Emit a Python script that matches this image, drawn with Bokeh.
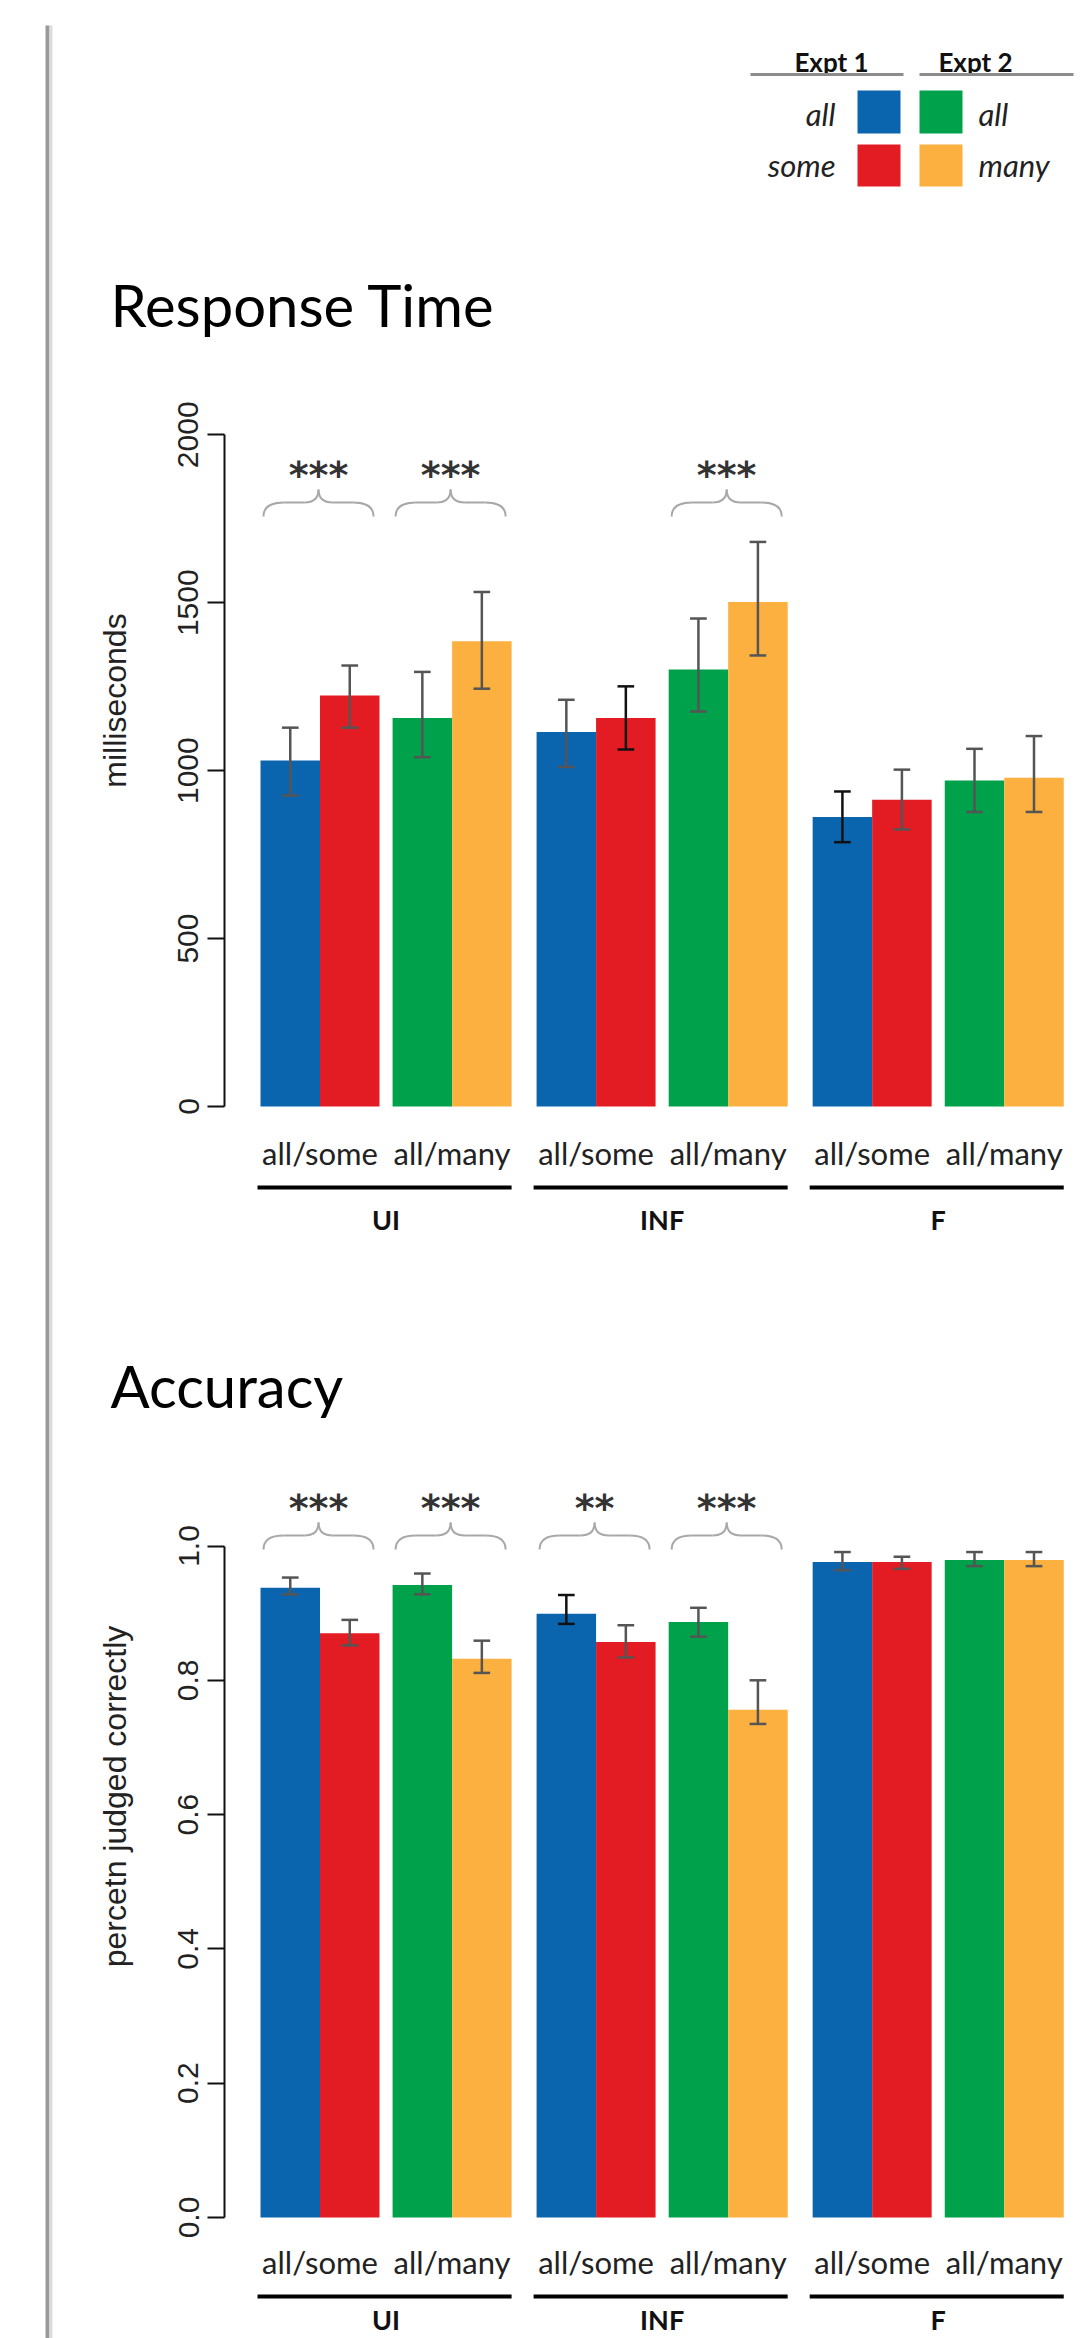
import math
from bokeh.plotting import figure
from bokeh.layouts import row, column
from bokeh.models import Range1d, FixedTicker, PrintfTickFormatter, BasicTickFormatter
from bokeh.core.properties import value
from bokeh.embed import file_html
from bokeh.resources import INLINE

# ---------------- data ----------------
groups = ["UI", "INF", "F"]
comparisons = ["all/some", "all/many"]
expts = ["Expt 1", "Expt 2"]
expt1_terms = ["all", "some"]
expt2_terms = ["all", "many"]

# bar order inside each group: Expt1 all, Expt1 some, Expt2 all, Expt2 many
rt_mean = [1030, 1224, 1157, 1385, 1115, 1157, 1301, 1502, 862, 913, 971, 979]
rt_lower = [926, 1128, 1040, 1244, 1011, 1063, 1176, 1343, 787, 825, 877, 877]
rt_upper = [1128, 1313, 1294, 1532, 1211, 1251, 1453, 1681, 938, 1003, 1065, 1103]
rt_sig = ["***", "***", "", "***", "", ""]
rt_ticks = [0, 500, 1000, 1500, 2000]

acc_mean = [0.938, 0.870, 0.942, 0.832, 0.899, 0.857, 0.887, 0.756, 0.976, 0.976, 0.979, 0.979]
acc_lower = [0.928, 0.852, 0.928, 0.811, 0.884, 0.834, 0.865, 0.735, 0.964, 0.966, 0.970, 0.970]
acc_upper = [0.953, 0.890, 0.959, 0.859, 0.927, 0.882, 0.908, 0.800, 0.991, 0.984, 0.991, 0.991]
acc_sig = ["***", "***", "**", "***", "", ""]
acc_ticks = [0.0, 0.2, 0.4, 0.6, 0.8, 1.0]

# ---------------- style ----------------
cond_colors = ["#0B64AE", "#E31B23", "#00A14B", "#FBB040"]
rt_err_colors = ["#555555"] * 12
rt_err_colors[5] = "#111111"
rt_err_colors[8] = "#111111"
acc_err_colors = ["#555555"] * 12
acc_err_colors[4] = "#111111"

CAL = "Lato"
AXF = "Liberation Sans"

PAGE_W, PAGE_H = 1082, 2338
EDGE_W = 58
MAIN_W = PAGE_W - EDGE_W
LEFT_W = 92
CHART_W = MAIN_W - LEFT_W
CHART_BORDER = 224 - EDGE_W - LEFT_W
PX_BAR = 59.5
GAP_PAIR = 0.22
GAP_GROUP = 0.42
X_START = -36 / PX_BAR
X_END = X_START + (CHART_W - CHART_BORDER) / PX_BAR
PERIOD = 4 + GAP_PAIR + GAP_GROUP


def bar_left(i):
    g, k, c = i // 4, (i % 4) // 2, i % 2
    return g * PERIOD + k * (2 + GAP_PAIR) + c


def plain_fig(w, h):
    p = figure(width=w, height=h, x_range=Range1d(0, w), y_range=Range1d(h, 0),
               x_axis_location=None, y_axis_location=None,
               output_backend="svg", toolbar_location=None,
               min_border_left=0, min_border_right=0, min_border_top=0, min_border_bottom=0)
    p.frame_align = False
    p.outline_line_color = None
    p.grid.visible = False
    return p


def make_chart(mean, lower, upper, err_colors, sig, ticks, ymax, fmt,
               height, zero_px, unit_px, lab_off, line_off, grp_off, brace_end):
    d = lambda px: px / unit_px
    p = figure(width=CHART_W, height=height,
               x_range=Range1d(X_START, X_END),
               y_range=Range1d(-d(height - zero_px), d(zero_px)),
               x_axis_location=None, y_axis_location="left",
               output_backend="svg", toolbar_location=None,
               min_border_left=CHART_BORDER, min_border_right=0,
               min_border_top=0, min_border_bottom=0)
    p.frame_align = False
    p.outline_line_color = None
    p.grid.visible = False
    ax = p.yaxis[0]
    ax.bounds = (0, ymax)
    ax.ticker = FixedTicker(ticks=ticks)
    ax.formatter = fmt
    ax.minor_tick_line_color = None
    ax.major_tick_out = 17
    ax.major_tick_in = 0
    ax.major_tick_line_width = 2
    ax.axis_line_width = 2
    ax.axis_line_color = "#111111"
    ax.major_tick_line_color = "#111111"
    ax.major_label_orientation = "parallel"
    ax.major_label_standoff = 9
    ax.major_label_text_font = AXF
    ax.major_label_text_font_size = "30px"
    ax.major_label_text_color = "#222222"

    n = len(mean)
    centers = [bar_left(i) + 0.5 for i in range(n)]
    colors = [cond_colors[i % 4] for i in range(n)]
    p.vbar(x=centers, width=1, bottom=0, top=mean, fill_color=colors, line_color=None)

    cap = 0.14
    p.segment(x0=centers, y0=lower, x1=centers, y1=upper, line_color=err_colors, line_width=2.5)
    p.segment(x0=[c - cap for c in centers], y0=upper, x1=[c + cap for c in centers], y1=upper,
              line_color=err_colors, line_width=2.5)
    p.segment(x0=[c - cap for c in centers], y0=lower, x1=[c + cap for c in centers], y1=lower,
              line_color=err_colors, line_width=2.5)

    pair_left = [bar_left(2 * j) for j in range(len(sig))]
    pair_center = [l + 1 for l in pair_left]

    # significance braces
    yE, yF, yP = d(brace_end), d(brace_end + 14), d(brace_end + 27)
    ystar = d(brace_end + 42)
    w1, w2 = 0.34, 0.24
    for j, s in enumerate(sig):
        if not s:
            continue
        xL = pair_left[j] + 0.05
        xR = pair_left[j] + 2 - 0.1
        xC = (xL + xR) / 2
        p.quadratic(x0=[xL, xR], y0=[yE, yE], x1=[xL + w1, xR - w1], y1=[yF, yF],
                    cx=[xL, xR], cy=[yF, yF], line_color="#a8a8a8", line_width=2)
        p.segment(x0=[xL + w1, xC + w2], y0=[yF, yF], x1=[xC - w2, xR - w1], y1=[yF, yF],
                  line_color="#a8a8a8", line_width=2)
        p.quadratic(x0=[xC - w2, xC + w2], y0=[yF, yF], x1=[xC, xC], y1=[yP, yP],
                    cx=[xC, xC], cy=[yF, yF], line_color="#a8a8a8", line_width=2)
        p.text(x=[xC], y=[ystar], text=[s], text_align="center", text_baseline="alphabetic",
               text_font=value("DejaVu Sans"), text_font_style="bold", text_font_size="38px",
               text_color="#333333")

    # category labels
    p.text(x=pair_center, y=[-d(lab_off)] * len(pair_center),
           text=[comparisons[j % 2] for j in range(len(pair_center))],
           text_align="center", text_baseline="alphabetic",
           text_font=value(CAL), text_font_size="31px", text_color="#222222")
    g_left = [bar_left(4 * g) for g in range(len(groups))]
    g_right = [l + 4 + GAP_PAIR for l in g_left]
    p.segment(x0=[l - 0.05 for l in g_left], x1=g_right,
              y0=[-d(line_off)] * 3, y1=[-d(line_off)] * 3,
              line_color="black", line_width=4)
    p.text(x=[(a + b) / 2 for a, b in zip(g_left, g_right)], y=[-d(grp_off)] * 3, text=groups,
           text_align="center", text_baseline="alphabetic",
           text_font=value(CAL), text_font_style="bold", text_font_size="27px",
           text_color="#111111")
    return p


def axis_title_fig(height, label, label_y):
    p = plain_fig(LEFT_W, height)
    p.text(x=[56], y=[label_y], text=[label], angle=math.pi / 2,
           text_align="center", text_baseline="middle",
           text_font=value(AXF), text_font_size="32px", text_color="#222222")
    return p


# ---- page edge (one continuous strip) ----
edge = plain_fig(EDGE_W, PAGE_H)
edge.quad(left=[45], right=[49], top=[25], bottom=[PAGE_H], fill_color="#9a9a9a", line_color=None)
edge.quad(left=[49], right=[52], top=[25], bottom=[PAGE_H], fill_color="#dcdcdc", line_color=None)

# ---- header: legend + title ----
HEAD_H = 370
head = plain_fig(MAIN_W, HEAD_H)
head.text(x=[773, 917], y=[61, 61], text=expts, text_align="center", text_baseline="alphabetic",
          text_font=value(CAL), text_font_style="bold", text_font_size="26px", text_color="#111111")
head.segment(x0=[692, 861], x1=[845, 1015], y0=[74, 74], y1=[74, 74], line_color="#8c8c8c", line_width=3)
head.quad(left=[799, 799, 861, 861], right=[842, 842, 904, 904], top=[90, 144, 90, 144],
          bottom=[133, 186, 133, 186], fill_color=cond_colors, line_color=None)
head.text(x=[777, 777], y=[113, 164], text=expt1_terms, text_align="right", text_baseline="alphabetic",
          text_font=value(CAL), text_font_style="italic", text_font_size="31px", text_color="#222222")
head.text(x=[920, 920], y=[113, 164], text=expt2_terms, text_align="left", text_baseline="alphabetic",
          text_font=value(CAL), text_font_style="italic", text_font_size="31px", text_color="#222222")
head.text(x=[52], y=[304], text=["Response Time"], text_align="left", text_baseline="alphabetic",
          text_font=value(CAL), text_font_size="58px", text_color="black")

RT_H = 890
rt_left = axis_title_fig(RT_H, "milliseconds", 330)
rt = make_chart(rt_mean, rt_lower, rt_upper, rt_err_colors, rt_sig, rt_ticks, 2000,
                BasicTickFormatter(), RT_H, 736, 671.7 / 2000, 46, 81, 113, 590)

ACC_HEAD_H = 180
acc_head = plain_fig(MAIN_W, ACC_HEAD_H)
acc_head.text(x=[52], y=[125], text=["Accuracy"], text_align="left", text_baseline="alphabetic",
              text_font=value(CAL), text_font_size="58px", text_color="black")

ACC_H = PAGE_H - HEAD_H - RT_H - ACC_HEAD_H
acc_left = axis_title_fig(ACC_H, "percetn judged correctly", 356)
acc = make_chart(acc_mean, acc_lower, acc_upper, acc_err_colors, acc_sig, acc_ticks, 1.0,
                 PrintfTickFormatter(format="%.1f"), ACC_H, 777, 671.5, 44, 79, 102, 668)

layout = row(edge, column(head, row(rt_left, rt), acc_head, row(acc_left, acc)))
open("out.html", "w").write(file_html(layout, INLINE))
